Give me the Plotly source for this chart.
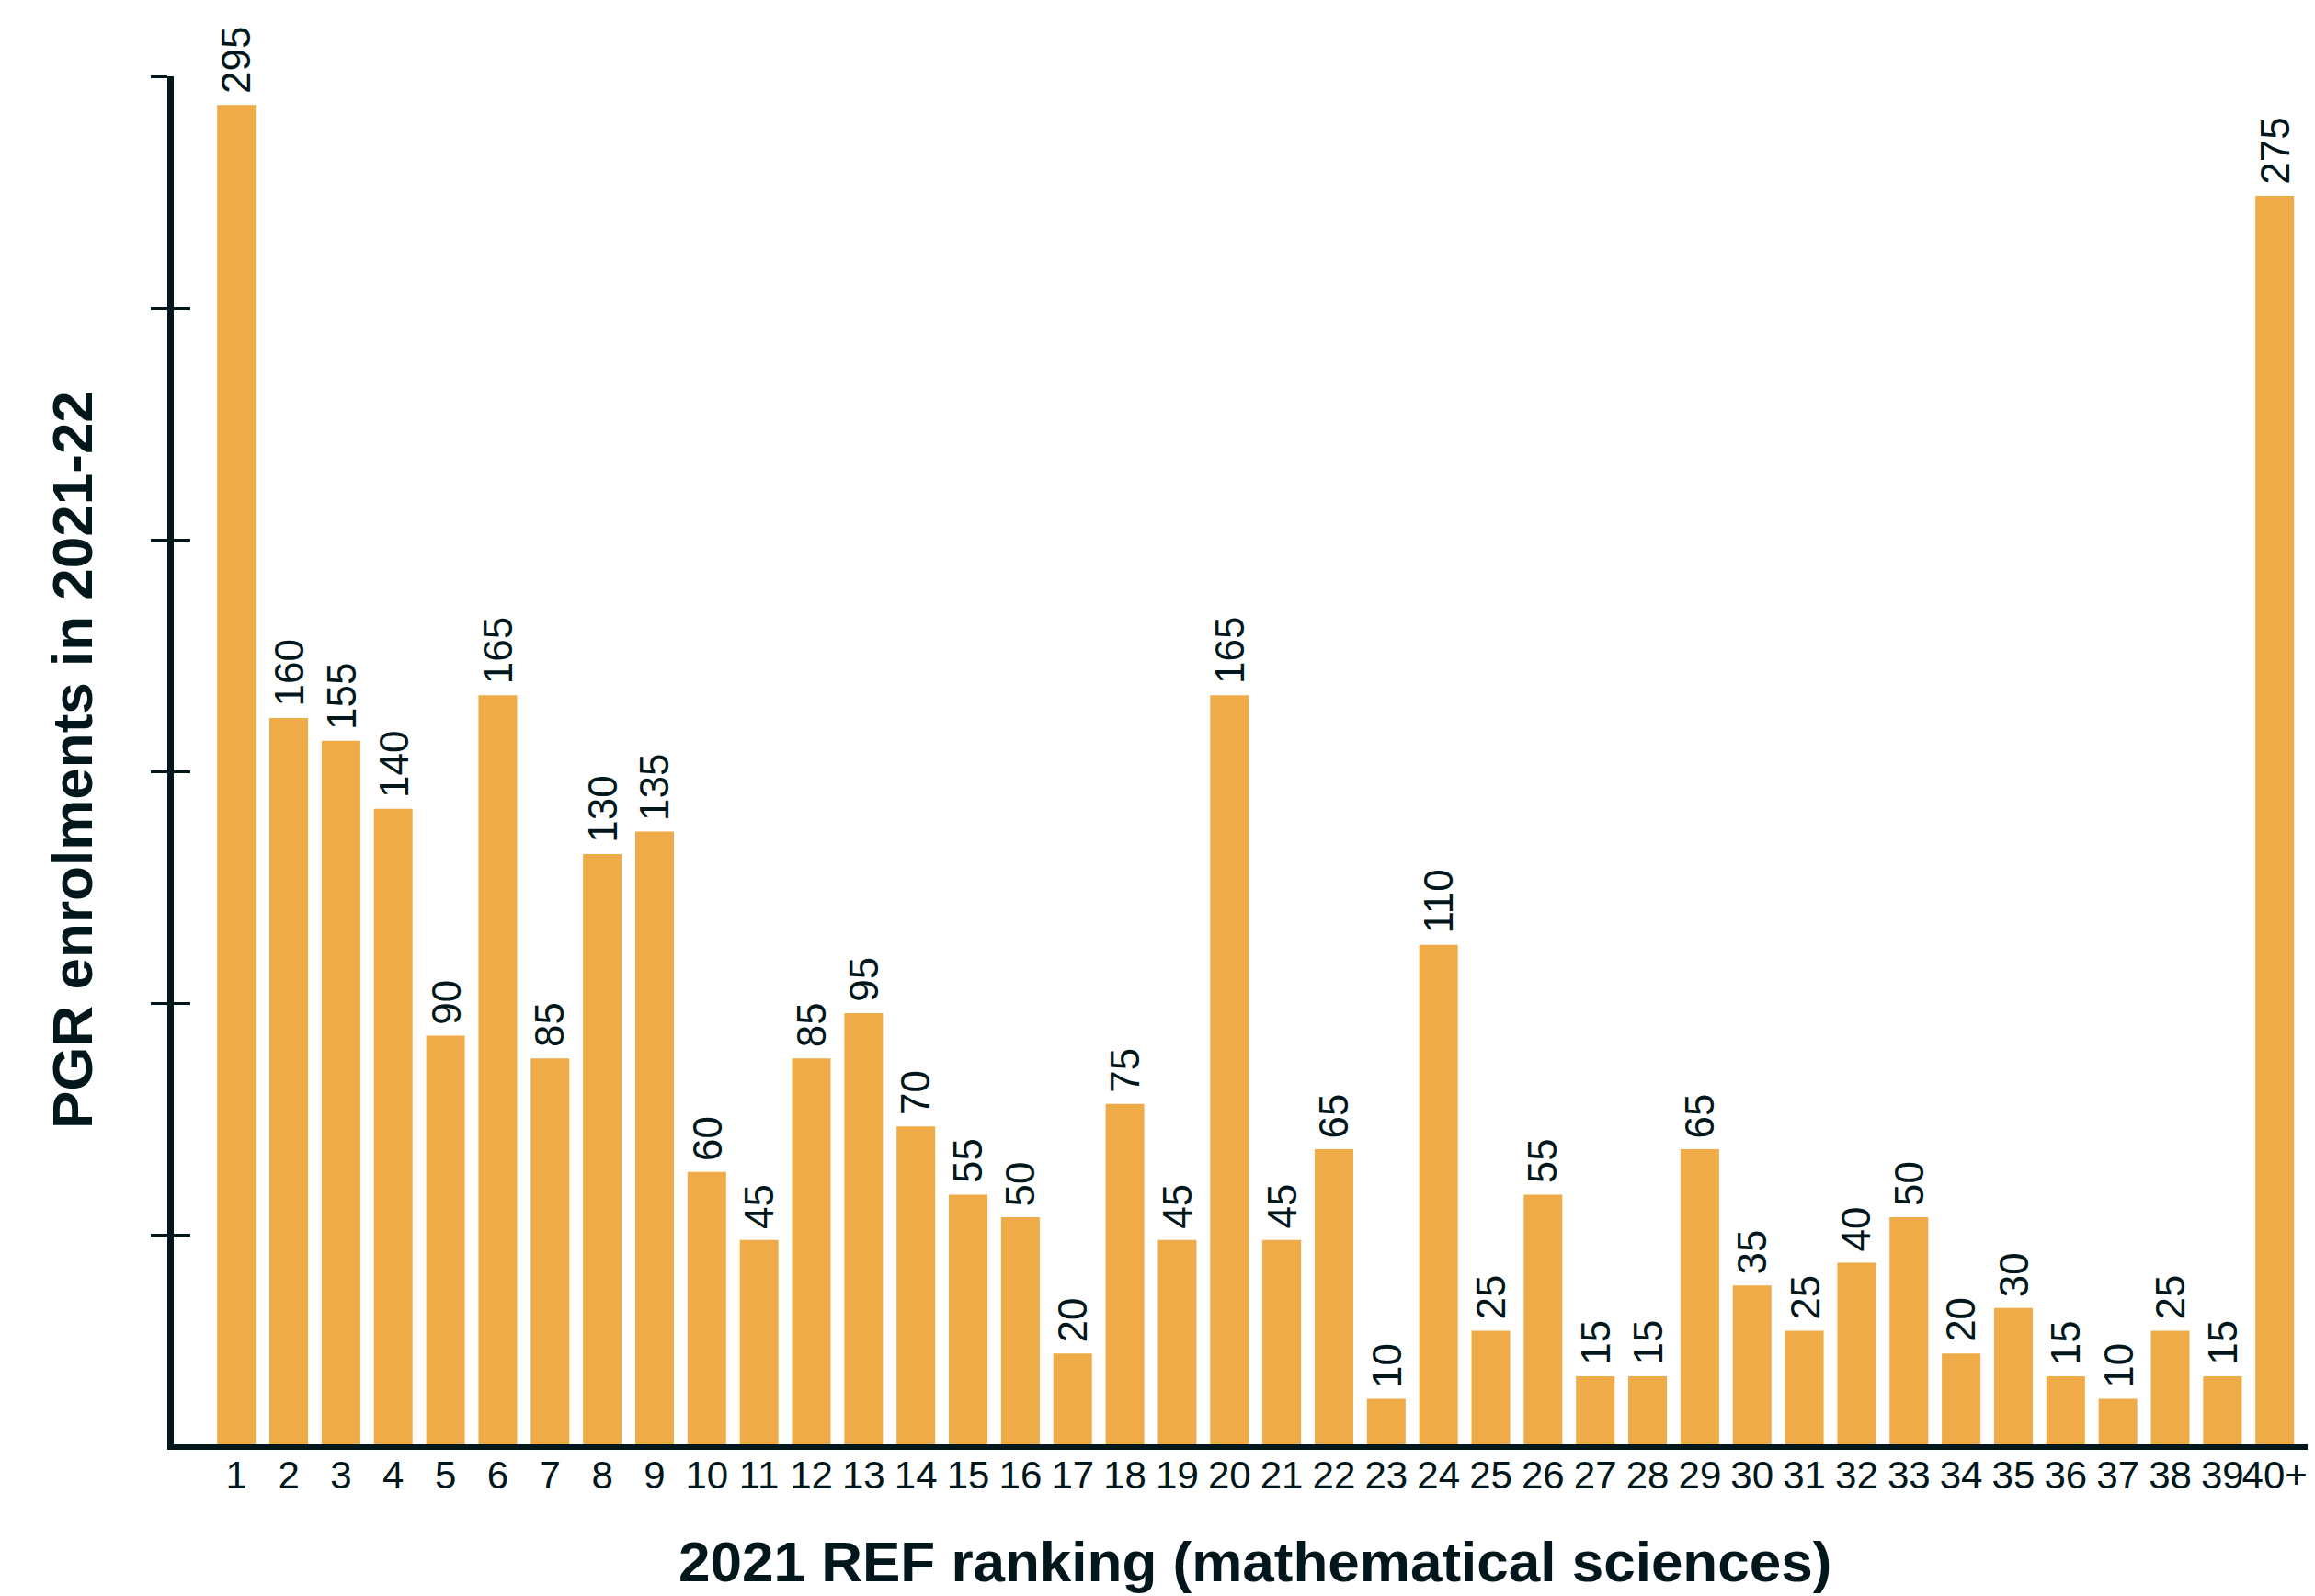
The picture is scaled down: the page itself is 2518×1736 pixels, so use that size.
import plotly.graph_objects as go

# ---- data ----
rankings = [str(i) for i in range(1, 40)] + ["40+"]
enrolments = [295, 160, 155, 140, 90, 165, 85, 130, 135, 60,
              45, 85, 95, 70, 55, 50, 20, 75, 45, 165,
              45, 65, 10, 110, 25, 55, 15, 15, 65, 35,
              25, 40, 50, 20, 30, 15, 10, 25, 15, 275]

x_title = "2021 REF ranking (mathematical sciences)"
y_title = "PGR enrolments in 2021-22"

BAR = "#EEAB47"
INK = "#02171B"
FONT = "Liberation Sans, Arial, sans-serif"

# page has an 8px body margin, so the figure origin sits at (8, 8)
OFF = 8
W, H = 2518 - OFF, 1736 - OFF
ML, MT = 189 - OFF, 83 - OFF
PR, PB = 2510 - OFF, 1571 - OFF          # plot right / bottom in figure px
MR, MB = W - PR, H - PB
PW, PH = PR - ML, PB - MT

fig = go.Figure()
fig.add_trace(go.Bar(x=rankings, y=enrolments, marker=dict(color=BAR, line=dict(width=0)),
                     showlegend=False, hoverinfo="x+y"))
# invisible helper trace so the overlaid axis (inner half of ticks) is drawn
fig.add_trace(go.Scatter(x=[rankings[0]], y=[0], yaxis="y2", mode="markers",
                         marker=dict(opacity=0), showlegend=False, hoverinfo="skip"))

# value labels above bars (category axis -> use category index positions)
for i, val in enumerate(enrolments):
    fig.add_annotation(x=i, y=val, xref="x", yref="y", text=str(val),
                       textangle=-90, showarrow=False, xanchor="center", yanchor="bottom",
                       yshift=10, font=dict(family=FONT, size=44, color=INK))

yr = [0, 301.35]
tick_kw = dict(tickmode="linear", tick0=46.15, dtick=51.03, ticklen=18, tickwidth=3,
               tickcolor=INK, showgrid=False, zeroline=False, showticklabels=False)

fig.update_layout(
    width=W, height=H,
    margin=dict(l=ML, r=MR, t=MT, b=MB, pad=0),
    paper_bgcolor="white", plot_bgcolor="white",
    bargap=0.261,
    xaxis=dict(range=[-1.2, 39.63], showgrid=False, zeroline=False, showline=True,
               linecolor=INK, linewidth=6, ticks="", type="category", tickangle=0,
               tickfont=dict(family=FONT, size=42, color=INK), ticklabelstandoff=-8),
    yaxis=dict(range=yr, showline=True, linecolor=INK, linewidth=7, ticks="outside", **tick_kw),
    yaxis2=dict(range=yr, overlaying="y", side="left", showline=False, ticks="inside", **tick_kw),
)

# axis titles
fig.add_annotation(xref="paper", yref="paper", x=(1365 - OFF - ML) / PW,
                   y=(PB - (1698 - OFF)) / PH, text=x_title, showarrow=False,
                   xanchor="center", yanchor="middle",
                   font=dict(family=FONT, size=62, color=INK, weight=700))
fig.add_annotation(xref="paper", yref="paper", x=(78 - OFF - ML) / PW, y=0.5,
                   text=y_title, textangle=-90, showarrow=False,
                   xanchor="center", yanchor="middle",
                   font=dict(family=FONT, size=62, color=INK, weight=700))

fig.write_html("out.html")
